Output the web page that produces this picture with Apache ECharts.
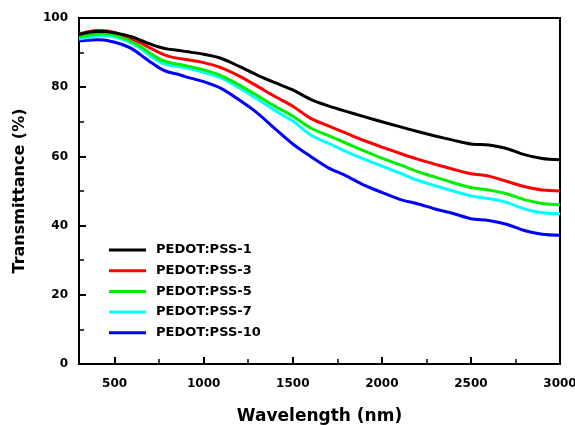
<!DOCTYPE html>
<html>
<head>
<meta charset="utf-8">
<script src="https://cdn.jsdelivr.net/npm/echarts@6/dist/echarts.min.js"></script>
<style>html,body{margin:0;padding:0;background:#fff}#c{width:575px;height:425px}</style>
</head>
<body>
<div id="c"></div>
<script>
var wavelengths = [300,350,400,450,500,550,600,650,700,750,800,850,900,1000,1100,1200,1300,1400,1500,1600,1700,1800,1900,2000,2100,2200,2300,2400,2500,2600,2700,2800,2900,3000];
var pss1  = [95.2,95.8,96.1,96.1,95.7,95.2,94.5,93.5,92.5,91.6,91.0,90.7,90.3,89.5,88.3,86.0,83.5,81.3,79.2,76.5,74.6,73.0,71.5,70.0,68.6,67.2,65.9,64.7,63.6,63.3,62.3,60.5,59.4,59.0];
var pss3  = [95.3,96.0,96.4,96.3,95.8,95.0,94.0,92.7,91.3,90.0,89.0,88.4,88.0,87.1,85.6,83.2,80.3,77.3,74.5,71.0,68.8,66.7,64.6,62.7,60.9,59.2,57.7,56.3,55.0,54.3,52.8,51.3,50.3,50.0];
var pss5  = [94.5,95.0,95.4,95.5,95.1,94.2,93.1,91.6,89.8,88.2,87.2,86.7,86.2,85.0,83.3,80.6,77.6,74.5,71.6,68.2,66.0,63.8,61.6,59.5,57.6,55.6,54.0,52.4,51.0,50.3,49.2,47.5,46.4,46.0];
var pss7  = [93.9,94.4,94.8,94.9,94.5,93.7,92.6,91.0,89.0,87.4,86.4,86.0,85.6,84.3,82.6,79.8,76.6,73.3,70.2,66.2,63.8,61.4,59.2,57.2,55.2,53.1,51.5,50.0,48.6,47.8,46.7,44.8,43.7,43.4];
var pss10 = [93.4,93.6,93.7,93.6,93.0,92.2,91.0,89.2,87.3,85.6,84.4,83.8,83.0,81.6,79.6,76.3,72.6,68.0,63.6,60.0,56.7,54.4,51.7,49.6,47.6,46.3,44.8,43.5,42.0,41.5,40.4,38.6,37.5,37.2];
var seriesNames = ['PEDOT:PSS-1','PEDOT:PSS-3','PEDOT:PSS-5','PEDOT:PSS-7','PEDOT:PSS-10'];
var seriesColors = ['#000000','#ff0000','#00ee00','#00ffff','#0000ff'];
var xMajorTicks = [500,1000,1500,2000,2500,3000];
var xMinorTicks = [750,1250,1750,2250,2750];

var allValues = [pss1, pss3, pss5, pss7, pss10];
function pairs(vals){ return wavelengths.map(function(w,i){ return [w, vals[i]]; }); }
function plain(v){ return String(v); }

var font = 'DejaVu Sans';
var chart = echarts.init(document.getElementById('c'), null, {renderer:'canvas'});
var series = allValues.map(function(vals, i){
  return {
    name: seriesNames[i], type: 'line', data: pairs(vals), smooth: 0.3,
    symbol: 'none', showSymbol: false, xAxisIndex: 0, yAxisIndex: 0,
    lineStyle: {color: seriesColors[i], width: 3},
    itemStyle: {color: seriesColors[i]},
    z: 10 - i
  };
});
chart.setOption({
  animation: false,
  backgroundColor: '#fff',
  grid: {left: 79, right: 15, top: 18, bottom: 61, show: true, borderColor: '#000', borderWidth: 2, containLabel: false, outerBoundsMode: 'none'},
  legend: {
    orient: 'vertical', left: 104, top: 238,
    icon: 'rect', itemWidth: 37, itemHeight: 3, itemGap: 6.7,
    data: seriesNames,
    textStyle: {fontFamily: font, fontWeight: 'bold', fontSize: 13, lineHeight: 14, color: '#000', padding: [0,0,0,5]}
  },
  xAxis: [{
    type: 'value', min: 300, max: 3000,
    name: 'Wavelength (nm)', nameLocation: 'middle', nameGap: 44,
    nameTextStyle: {fontFamily: font, fontWeight: 'bold', fontSize: 17, color: '#000'},
    axisLine: {show: true, lineStyle: {color: '#000', width: 2}},
    axisTick: {show: true, inside: true, length: 7, customValues: xMajorTicks, lineStyle: {color: '#000', width: 2}},
    axisLabel: {customValues: xMajorTicks, formatter: plain, margin: 14, fontFamily: font, fontWeight: 'bold', fontSize: 12, color: '#000'},
    splitLine: {show: false}
  }, {
    type: 'value', min: 300, max: 3000, position: 'bottom',
    axisLine: {show: false},
    axisTick: {show: true, inside: true, length: 5, customValues: xMinorTicks, lineStyle: {color: '#000', width: 1.5}},
    axisLabel: {show: false},
    splitLine: {show: false}
  }],
  yAxis: {
    type: 'value', min: 0, max: 100, interval: 20,
    name: 'Transmittance (%)', nameLocation: 'middle', nameGap: 51, nameRotate: 90,
    nameTextStyle: {fontFamily: font, fontWeight: 'bold', fontSize: 16, color: '#000'},
    axisLine: {show: true, lineStyle: {color: '#000', width: 2}},
    axisTick: {show: true, inside: true, length: 7, lineStyle: {color: '#000', width: 2}},
    minorTick: {show: true, splitNumber: 2, length: 5, lineStyle: {color: '#000', width: 1.5}},
    axisLabel: {formatter: plain, margin: 11, fontFamily: font, fontWeight: 'bold', fontSize: 12, color: '#000'},
    splitLine: {show: false},
    minorSplitLine: {show: false}
  },
  series: series
});
</script>
</body>
</html>
